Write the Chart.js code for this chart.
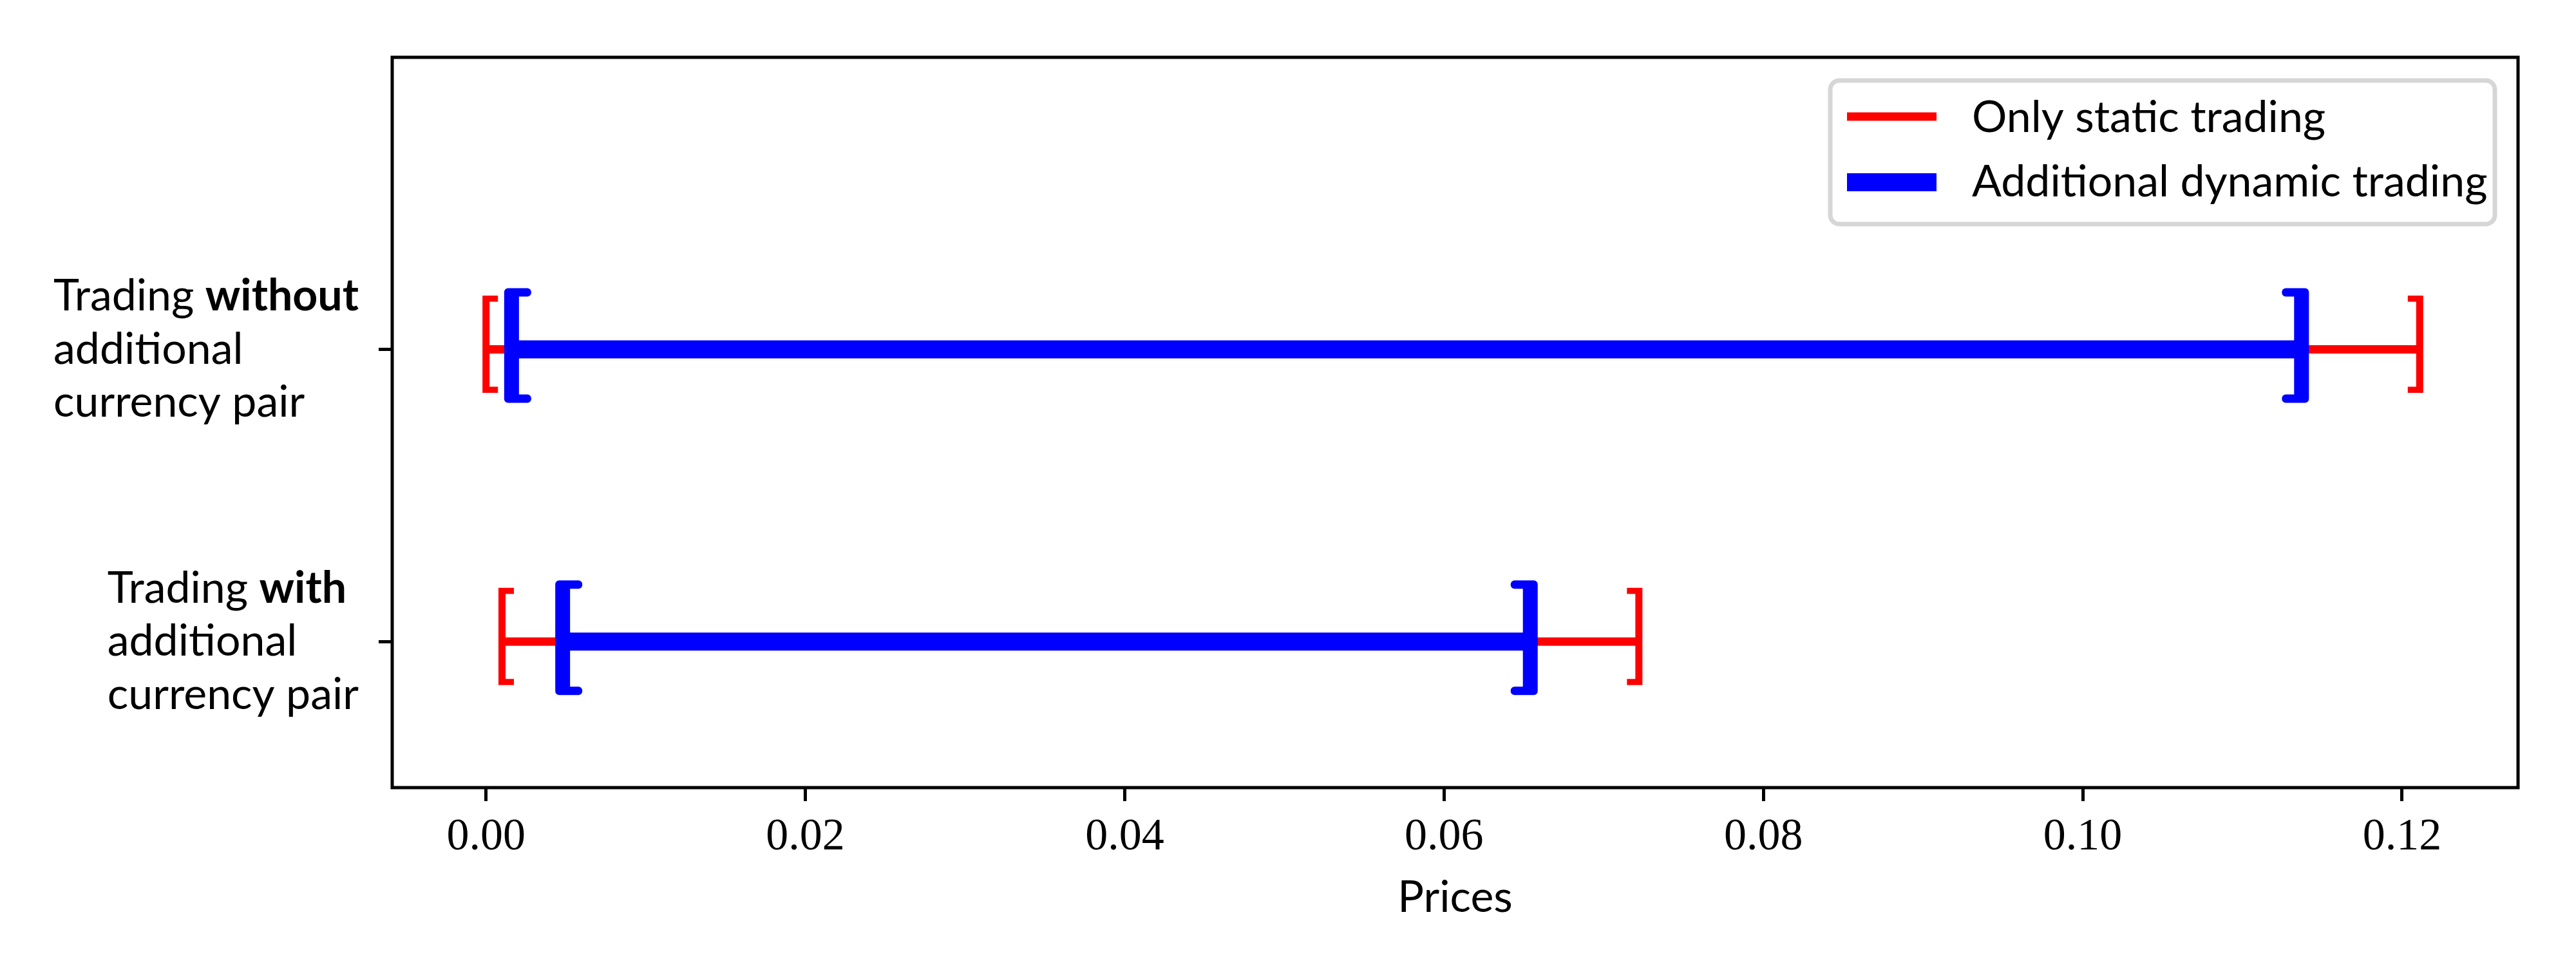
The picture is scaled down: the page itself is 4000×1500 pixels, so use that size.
<!DOCTYPE html>
<html>
<head>
<meta charset="utf-8">
<script src="https://cdn.jsdelivr.net/npm/chart.js@4.4.1/dist/chart.umd.min.js"></script>
<style>
  html, body { margin: 0; padding: 0; background: #ffffff; }
  canvas { display: block; }
</style>
</head>
<body>
<canvas id="c" width="4000" height="1500"></canvas>
<script>
// ---------------- data ----------------
const categories = ['Trading without additional currency pair', 'Trading with additional currency pair'];
// label lines: [text, bold]
const categoryLines = [
  [[['Trading ', false], ['without', true]], [['additional', false]], [['currency pair', false]]],
  [[['Trading ', false], ['with', true]], [['additional', false]], [['currency pair', false]]]
];
const rowPositions = [1, 0];
const seriesNames = ['Only static trading', 'Additional dynamic trading'];
const staticLow = [0.0000, 0.0010];
const staticHigh = [0.1211, 0.0722];
const dynamicLow = [0.0016, 0.0048];
const dynamicHigh = [0.1137, 0.0654];
const xTicks = [0.00, 0.02, 0.04, 0.06, 0.08, 0.10, 0.12];
const xRange = [-0.005876, 0.12726];
const yRange = [-0.5, 2];
const xTitle = 'Prices';

// ---------------- styles ----------------
const RED = '#ff0000', BLUE = '#0000ff';
const bracketStyles = {
  static: { color: RED, w: 11, h: 151, c: 24, t: 9.5, dy: -8, s: 0 },
  dynamic: { color: BLUE, w: 23, h: 178, c: 42, t: 13, dy: -6, s: 6 }
};
const SANS = 'Lato';

const datasets = [];
rowPositions.forEach((r, i) => {
  datasets.push({
    label: seriesNames[0], bracket: 'static', order: 2,
    data: [{ x: staticLow[i], y: r }, { x: staticHigh[i], y: r }],
    showLine: true, borderColor: RED, backgroundColor: RED, borderWidth: 13,
    pointRadius: 0, pointHoverRadius: 0, borderCapStyle: 'butt'
  });
});
rowPositions.forEach((r, i) => {
  datasets.push({
    label: seriesNames[1], bracket: 'dynamic', order: 1,
    data: [{ x: dynamicLow[i], y: r }, { x: dynamicHigh[i], y: r }],
    showLine: true, borderColor: BLUE, backgroundColor: BLUE, borderWidth: 28,
    pointRadius: 0, pointHoverRadius: 0, borderCapStyle: 'butt'
  });
});

function bracketPath(ctx, x, y, side, st) {
  // side: 'L' => '[' , 'R' => ']'
  const s = st.s;
  const w = st.w - 2 * s, h = st.h - 2 * s, c = st.c - 2 * s, t = Math.max(st.t - 2 * s, 0.5);
  const yc = y + st.dy;
  const top = yc - h / 2, bot = yc + h / 2;
  const dir = side === 'L' ? 1 : -1;
  const outer = x - dir * w / 2;
  const pts = [
    [outer, top], [outer + dir * c, top], [outer + dir * c, top + t], [outer + dir * w, top + t],
    [outer + dir * w, bot - t], [outer + dir * c, bot - t], [outer + dir * c, bot], [outer, bot]
  ];
  ctx.beginPath();
  pts.forEach((p, k) => k ? ctx.lineTo(p[0], p[1]) : ctx.moveTo(p[0], p[1]));
  ctx.closePath();
  ctx.fillStyle = st.color;
  ctx.fill();
  if (s > 0) {
    ctx.strokeStyle = st.color;
    ctx.lineWidth = 2 * s;
    ctx.lineJoin = 'round';
    ctx.stroke();
  }
}

const bracketPlugin = {
  id: 'brackets',
  beforeDraw(chart) {
    const ctx = chart.ctx;
    ctx.save();
    ctx.fillStyle = '#ffffff';
    ctx.fillRect(0, 0, chart.width, chart.height);
    ctx.restore();
  },
  afterDatasetDraw(chart, args) {
    const ds = chart.data.datasets[args.index];
    const st = bracketStyles[ds.bracket];
    const pts = args.meta.data;
    const ctx = chart.ctx;
    ctx.save();
    bracketPath(ctx, pts[0].x, pts[0].y, 'L', st);
    bracketPath(ctx, pts[1].x, pts[1].y, 'R', st);
    ctx.restore();
  },
  afterDraw(chart) {
    const ctx = chart.ctx;
    const a = chart.chartArea;
    ctx.save();
    // spines
    ctx.strokeStyle = '#000';
    ctx.lineWidth = 5;
    ctx.strokeRect(a.left, a.top, a.right - a.left, a.bottom - a.top);

    // y category labels
    const ys = chart.scales.y;
    const fontN = '68px ' + SANS, fontB = 'bold 68px ' + SANS;
    categoryLines.forEach((lines, i) => {
      const yp = ys.getPixelForValue(rowPositions[i]);
      const widths = lines.map(line => line.reduce((acc, seg) => {
        ctx.font = seg[1] ? fontB : fontN;
        return acc + ctx.measureText(seg[0]).width;
      }, 0));
      const maxW = Math.max(...widths);
      const left = a.left - 52 - maxW;
      ctx.fillStyle = '#000';
      ctx.textBaseline = 'alphabetic';
      ctx.textAlign = 'left';
      lines.forEach((line, k) => {
        let x = left;
        const by = yp - 60.5 + k * 82.5;
        line.forEach(seg => {
          ctx.font = seg[1] ? fontB : fontN;
          ctx.fillText(seg[0], x, by);
          x += ctx.measureText(seg[0]).width;
        });
      });
    });

    // legend
    const bx = a.right - 68, bxL = a.left + 2233;
    const boxL = a.right - 1068, boxT = a.top + 36, boxW = 1032, boxH = 223;
    ctx.beginPath();
    ctx.roundRect(boxL, boxT, boxW, boxH, 14);
    ctx.fillStyle = 'rgba(255,255,255,0.8)';
    ctx.fill();
    ctx.strokeStyle = '#d6d6d6';
    ctx.lineWidth = 7;
    ctx.stroke();
    const items = [
      { name: seriesNames[0], color: RED, lw: 13, cy: 181, base: 205 },
      { name: seriesNames[1], color: BLUE, lw: 28, cy: 283, base: 305 }
    ];
    items.forEach(it => {
      ctx.beginPath();
      ctx.moveTo(boxL + 26, it.cy);
      ctx.lineTo(boxL + 165, it.cy);
      ctx.strokeStyle = it.color;
      ctx.lineWidth = it.lw;
      ctx.lineCap = 'butt';
      ctx.stroke();
      ctx.fillStyle = '#000';
      ctx.font = fontN;
      ctx.textBaseline = 'alphabetic';
      ctx.textAlign = 'left';
      ctx.fillText(it.name, boxL + 220, it.base);
    });
    ctx.restore();
  }
};

new Chart(document.getElementById('c'), {
  type: 'scatter',
  data: { datasets },
  options: {
    responsive: false,
    animation: false,
    devicePixelRatio: 1,
    events: [],
    layout: { padding: { top: 89, right: 90, left: 0, bottom: 0 } },
    plugins: { legend: { display: false }, tooltip: { enabled: false } },
    scales: {
      x: {
        type: 'linear', position: 'bottom', min: xRange[0], max: xRange[1],
        afterBuildTicks: s => { s.ticks = xTicks.map(v => ({ value: v })); },
        afterFit: s => { s.height = 277; },
        ticks: {
          callback: v => Number(v).toFixed(2), autoSkip: false, maxRotation: 0, minRotation: 0,
          color: '#000', padding: 15, font: { family: 'Liberation Serif', size: 70 }
        },
        grid: { drawOnChartArea: false, drawTicks: true, tickLength: 21, tickWidth: 5, tickColor: '#000', color: '#000' },
        border: { display: false },
        title: { display: true, text: xTitle, color: '#000', font: { family: SANS, size: 68 }, padding: { top: 0, bottom: 65 } }
      },
      y: {
        type: 'linear', position: 'left', min: yRange[0], max: yRange[1],
        afterBuildTicks: s => { s.ticks = rowPositions.map(v => ({ value: v })); },
        afterFit: s => { s.width = 609; },
        ticks: { display: false },
        grid: { drawOnChartArea: false, drawTicks: true, tickLength: 21, tickWidth: 5, tickColor: '#000', color: '#000' },
        border: { display: false }
      }
    }
  },
  plugins: [bracketPlugin]
});
</script>
</body>
</html>
